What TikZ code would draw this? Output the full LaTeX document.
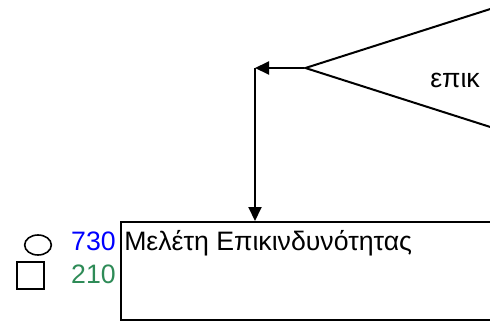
\documentclass[tikz,border=0pt]{standalone}
\usepackage{fontspec}
\setmainfont{Liberation Sans}
\usetikzlibrary{shapes.geometric, arrows.meta}
\definecolor{numblue}{RGB}{0,0,255}
\definecolor{numgreen}{RGB}{46,139,87}
\tikzstyle{decision} = [diamond, draw=black, line width=1.5pt, minimum width=442.5pt, minimum height=141.6pt, inner sep=0pt]
\tikzstyle{task} = [rectangle, draw=black, line width=1.5pt, minimum width=360pt, minimum height=73.5pt, anchor=north west]
\tikzstyle{boxtext} = [inner sep=0pt, anchor=base west]
\tikzstyle{legend} = [draw=black, line width=1.2pt, inner sep=0pt]
\tikzstyle{arrow} = [line width=1.5pt, -{Triangle[length=10.5pt, width=9.75pt]}]

\begin{document}
\begin{tikzpicture}[x=0.75pt, y=-0.75pt, font=\fontsize{20}{24}\selectfont]
\useasboundingbox (0,0) rectangle (490,322);
\clip (0,0) rectangle (490,322);

\node (risk) [decision] at (600,68) {};
\node (riskname) [boxtext] at (430,87) {επικ};

\coordinate (bend) at (255,68);

\node (study) [task] at (120,221) {};
\node (studyname) [boxtext] at (124,250) {Μελέτη Επικινδυνότητας};

\node (circ) [legend, ellipse, minimum width=20pt, minimum height=15pt] at (38,245) {};
\node (sq) [legend, rectangle, minimum size=20.25pt] at (30.5,275.5) {};
\node (early) [boxtext, anchor=base east, text=numblue] at (116,250) {730};
\node (late) [boxtext, anchor=base east, text=numgreen] at (116,283) {210};

\draw [arrow] (risk.west) -- (bend);
\draw [arrow] (bend) -- (bend |- study.north);

\end{tikzpicture}
\end{document}
